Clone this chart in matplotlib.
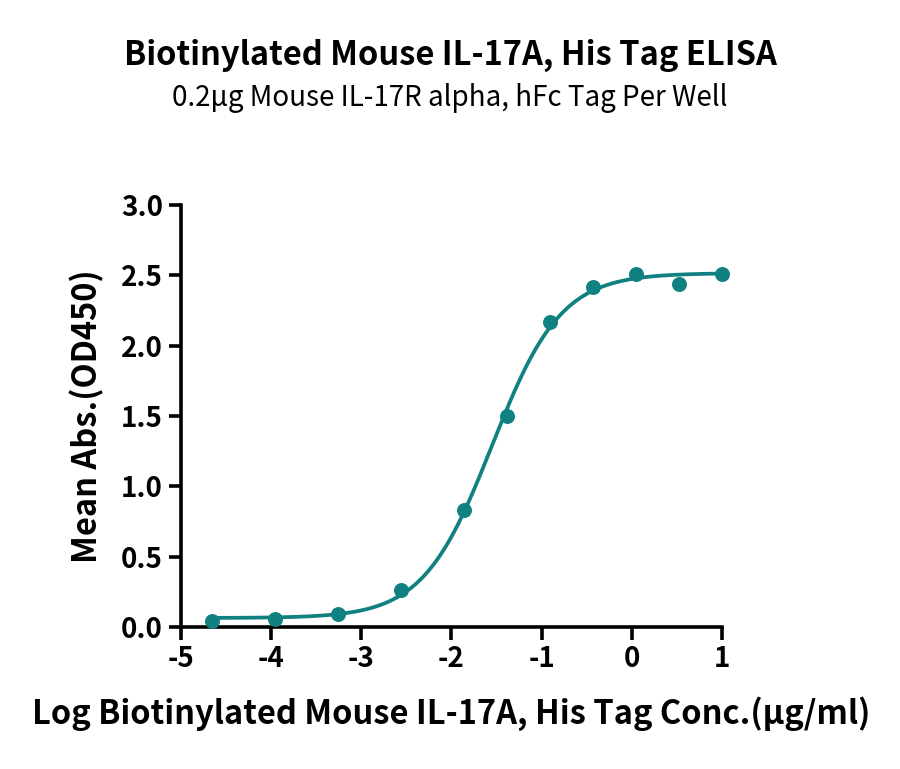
import numpy as np
import matplotlib
matplotlib.use("Agg")
import matplotlib.pyplot as plt

plt.rcParams['font.family'] = ['Noto Sans CJK SC', 'DejaVu Sans']

# Data (log10 concentration, mean OD450)
log_conc = [-4.659, -3.960, -3.261, -2.562, -1.863, -1.386, -0.908, -0.431, 0.046, 0.523, 1.000]
od450 = [0.045, 0.055, 0.095, 0.26, 0.83, 1.50, 2.17, 2.42, 2.51, 2.44, 2.51]

title = "Biotinylated Mouse IL-17A, His Tag ELISA"
subtitle = "0.2\u03bcg Mouse IL-17R alpha, hFc Tag Per Well"
xlabel = "Log Biotinylated Mouse IL-17A, His Tag Conc.(\u03bcg/ml)"
ylabel = "Mean Abs.(OD450)"
xticks = [-5, -4, -3, -2, -1, 0, 1]
yticks = [0.0, 0.5, 1.0, 1.5, 2.0, 2.5, 3.0]

color = "#108080"

x = np.array(log_conc)
y = np.array(od450)


def model(p, xx):
    bottom, top, ec50, hill = p
    return bottom + (top - bottom) / (1 + 10 ** ((ec50 - xx) * hill))


# simple Levenberg-Marquardt fit of a 4PL curve
p = np.array([0.05, 2.5, -1.6, 1.2])
lam = 1e-3
for _ in range(300):
    r = y - model(p, x)
    J = np.zeros((len(x), 4))
    for i in range(4):
        dp = np.zeros(4)
        dp[i] = 1e-6
        J[:, i] = (model(p + dp, x) - model(p - dp, x)) / 2e-6
    A = J.T @ J
    step = np.linalg.solve(A + lam * np.diag(np.diag(A)), J.T @ r)
    pn = p + step
    if np.sum((y - model(pn, x)) ** 2) < np.sum(r ** 2):
        p = pn
        lam *= 0.5
    else:
        lam *= 4

fig = plt.figure(figsize=(9, 7.69), dpi=100)
ax = fig.add_axes([181 / 900, 1 - 627 / 769, 541 / 900, 422 / 769])

xx = np.linspace(x.min(), x.max(), 400)
ax.plot(xx, model(p, xx), color=color, lw=2.7, zorder=2)
ax.scatter(x, y, s=95, color=color, zorder=3, clip_on=False)

ax.set_xlim(-5, 1)
ax.set_ylim(0, 3)
ax.set_xticks(xticks)
ax.set_xticklabels([str(t) for t in xticks])
ax.set_yticks(yticks)
ax.set_yticklabels([f"{t:.1f}" for t in yticks])

for s in ["top", "right"]:
    ax.spines[s].set_visible(False)
for s in ["left", "bottom"]:
    ax.spines[s].set_linewidth(2.6)
    ax.spines[s].set_color("black")
    ax.spines[s].set_capstyle("projecting")

ax.tick_params(axis="both", direction="out", length=9, width=2.6, labelsize=20, pad=4)
for lab in ax.get_xticklabels() + ax.get_yticklabels():
    lab.set_fontweight("heavy")

ax.set_xlabel(xlabel, fontsize=23.5, fontweight="heavy", labelpad=17)
ax.set_ylabel(ylabel, fontsize=23.5, fontweight="heavy", labelpad=12)

fig.text(0.5, 1 - 55 / 769, title, ha="center", va="center", fontsize=23.5, fontweight="heavy")
fig.text(0.5, 1 - 98 / 769, subtitle, ha="center", va="center", fontsize=20)

fig.savefig("out.png", dpi=100)
